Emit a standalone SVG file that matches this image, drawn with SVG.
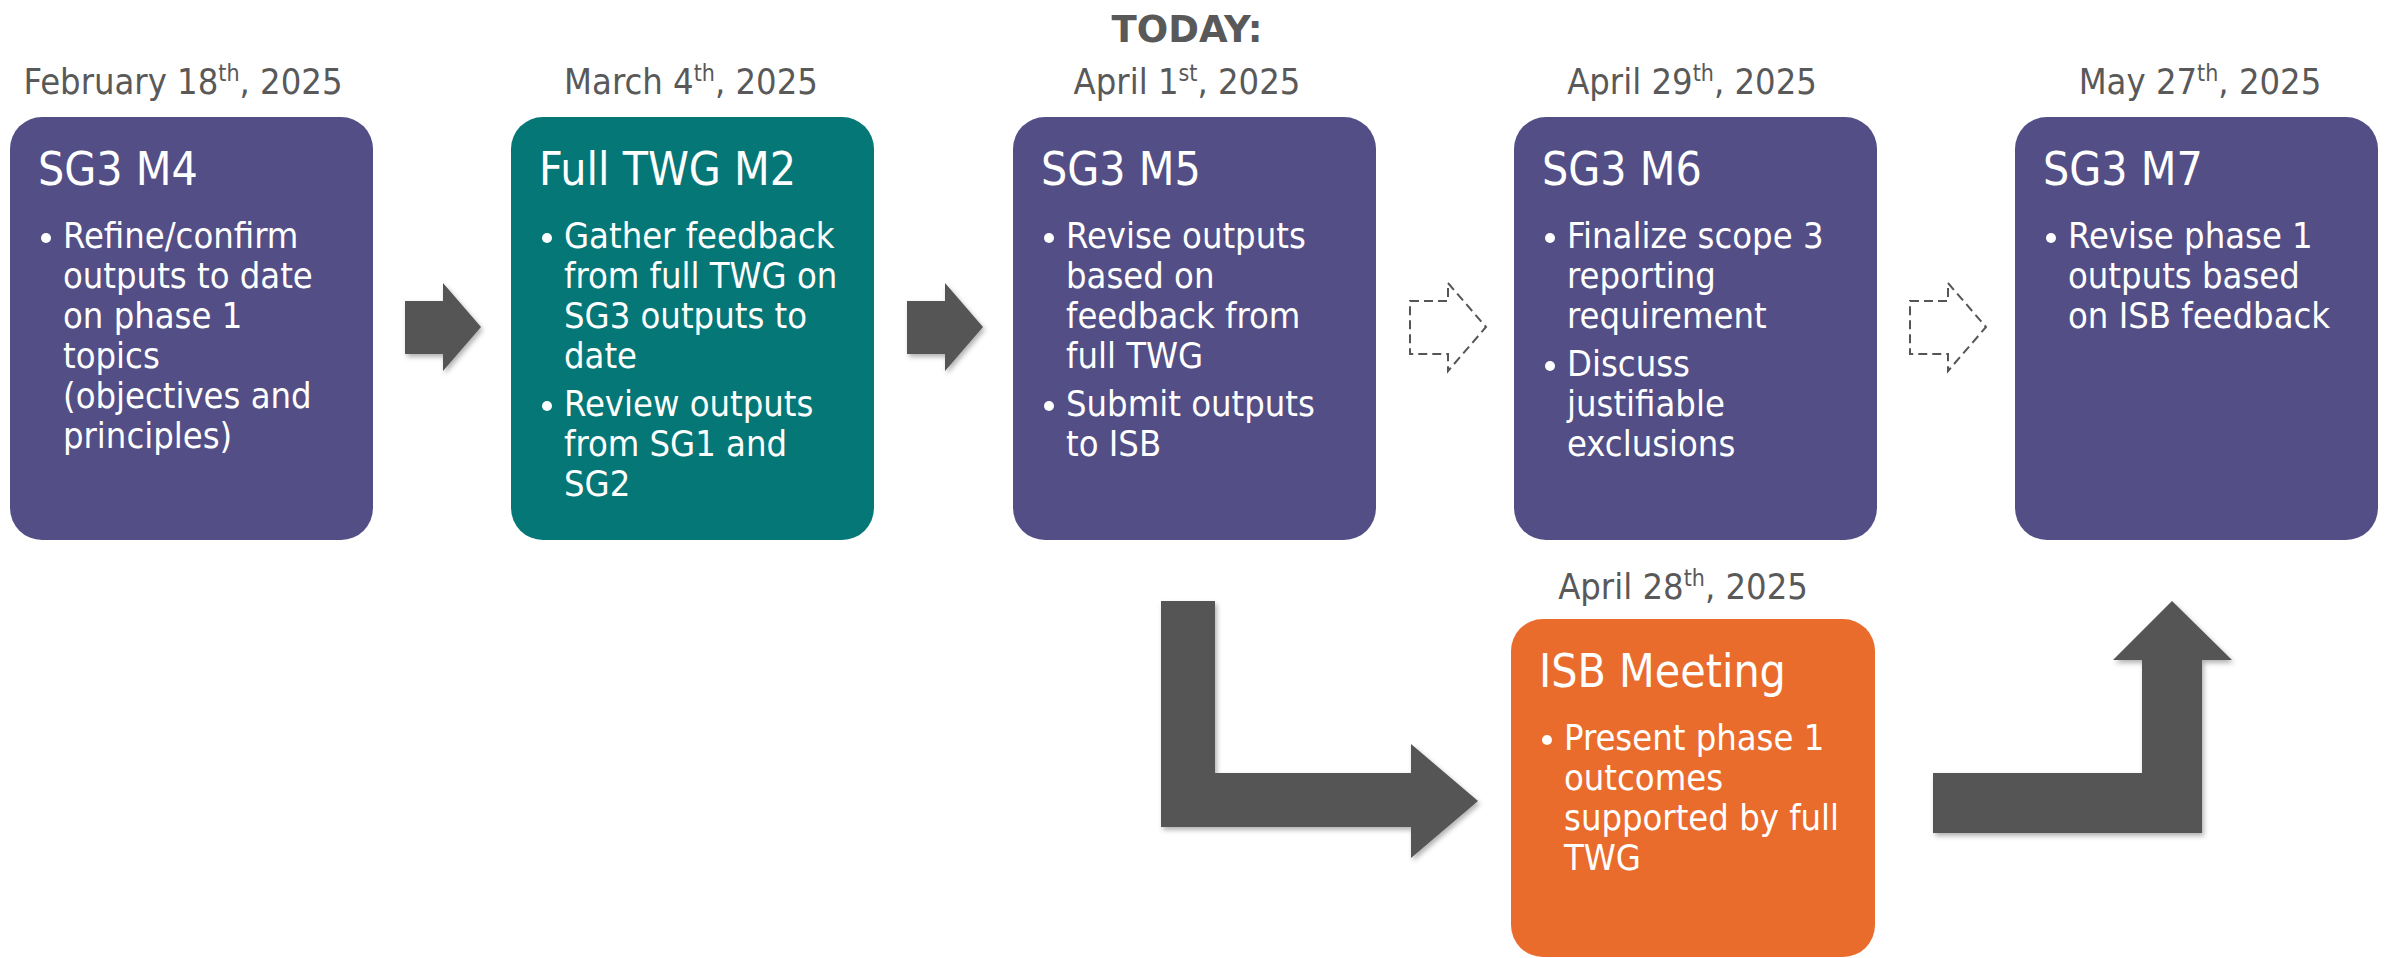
<svg xmlns="http://www.w3.org/2000/svg" width="2389" height="958" viewBox="0 0 2389 958">
<defs>
<style>
text{font-family:"DejaVu Sans Condensed","DejaVu Sans",sans-serif;font-stretch:condensed}
.date{font-size:36px;fill:#595959;text-anchor:middle}
.today{font-family:"DejaVu Sans",sans-serif;font-stretch:normal;font-weight:bold;font-size:37px;fill:#595959;text-anchor:middle}
.sup{font-size:23px}
.title{font-size:46px;fill:#ffffff}
.body{font-size:36px;fill:#ffffff}
.purple{fill:#534f86}
.teal{fill:#067777}
.orange{fill:#ea6c2c}
.dot{fill:#ffffff}
.solid{fill:#545456;filter:url(#sh)}
.dash{fill:none;stroke:#555557;stroke-width:2;stroke-dasharray:9 5}
</style>
<filter id="sh" x="-10%" y="-10%" width="130%" height="130%">
<feDropShadow dx="2" dy="3" stdDeviation="2.5" flood-color="#000" flood-opacity="0.3"/>
</filter>
</defs>
<rect width="2389" height="958" fill="#ffffff"/>

<g id="connectors">
<path class="solid" d="M405,301 H443 V283 L481,327 L443,371 V354 H405 Z"/>
<path class="solid" d="M907,301 H945 V283 L983,327 L945,371 V354 H907 Z"/>
<path class="dash" d="M1410,301 H1448 V283 L1486,327 L1448,371 V354 H1410 Z"/>
<path class="dash" d="M1910,301 H1948 V283 L1986,327 L1948,371 V354 H1910 Z"/>
<path class="solid" d="M1161,601 H1215 V773 H1411 V744 L1478,801 L1411,858 V827 H1161 Z"/>
<path class="solid" d="M1933,773 H2142 V660 H2113 L2172,601 L2232,660 H2202 V833 H1933 Z"/>
</g>

<text class="today" x="1187" y="42">TODAY:</text>

<g id="node-sg3-m4">
<text class="date" x="183" y="94">February 18<tspan class="sup" dy="-13">th</tspan><tspan dy="13">, 2025</tspan></text>
<rect class="purple" x="10" y="117" width="363" height="423" rx="32"/>
<text class="title" x="38" y="185">SG3 M4</text>
<circle class="dot" cx="46" cy="238" r="5"/>
<text class="body" x="63" y="248">Refine/confirm</text>
<text class="body" x="63" y="288">outputs to date</text>
<text class="body" x="63" y="328">on phase 1</text>
<text class="body" x="63" y="368">topics</text>
<text class="body" x="63" y="408">(objectives and</text>
<text class="body" x="63" y="448">principles)</text>
</g>

<g id="node-full-twg-m2">
<text class="date" x="691" y="94">March 4<tspan class="sup" dy="-13">th</tspan><tspan dy="13">, 2025</tspan></text>
<rect class="teal" x="511" y="117" width="363" height="423" rx="32"/>
<text class="title" x="539" y="185">Full TWG M2</text>
<circle class="dot" cx="547" cy="238" r="5"/>
<text class="body" x="564" y="248">Gather feedback</text>
<text class="body" x="564" y="288">from full TWG on</text>
<text class="body" x="564" y="328">SG3 outputs to</text>
<text class="body" x="564" y="368">date</text>
<circle class="dot" cx="547" cy="406" r="5"/>
<text class="body" x="564" y="416">Review outputs</text>
<text class="body" x="564" y="456">from SG1 and</text>
<text class="body" x="564" y="496">SG2</text>
</g>

<g id="node-sg3-m5">
<text class="date" x="1187" y="94">April 1<tspan class="sup" dy="-13">st</tspan><tspan dy="13">, 2025</tspan></text>
<rect class="purple" x="1013" y="117" width="363" height="423" rx="32"/>
<text class="title" x="1041" y="185">SG3 M5</text>
<circle class="dot" cx="1049" cy="238" r="5"/>
<text class="body" x="1066" y="248">Revise outputs</text>
<text class="body" x="1066" y="288">based on</text>
<text class="body" x="1066" y="328">feedback from</text>
<text class="body" x="1066" y="368">full TWG</text>
<circle class="dot" cx="1049" cy="406" r="5"/>
<text class="body" x="1066" y="416">Submit outputs</text>
<text class="body" x="1066" y="456">to ISB</text>
</g>

<g id="node-sg3-m6">
<text class="date" x="1692" y="94">April 29<tspan class="sup" dy="-13">th</tspan><tspan dy="13">, 2025</tspan></text>
<rect class="purple" x="1514" y="117" width="363" height="423" rx="32"/>
<text class="title" x="1542" y="185">SG3 M6</text>
<circle class="dot" cx="1550" cy="238" r="5"/>
<text class="body" x="1567" y="248">Finalize scope 3</text>
<text class="body" x="1567" y="288">reporting</text>
<text class="body" x="1567" y="328">requirement</text>
<circle class="dot" cx="1550" cy="366" r="5"/>
<text class="body" x="1567" y="376">Discuss</text>
<text class="body" x="1567" y="416">justifiable</text>
<text class="body" x="1567" y="456">exclusions</text>
</g>

<g id="node-sg3-m7">
<text class="date" x="2200" y="94">May 27<tspan class="sup" dy="-13">th</tspan><tspan dy="13">, 2025</tspan></text>
<rect class="purple" x="2015" y="117" width="363" height="423" rx="32"/>
<text class="title" x="2043" y="185">SG3 M7</text>
<circle class="dot" cx="2051" cy="238" r="5"/>
<text class="body" x="2068" y="248">Revise phase 1</text>
<text class="body" x="2068" y="288">outputs based</text>
<text class="body" x="2068" y="328">on ISB feedback</text>
</g>

<g id="node-isb-meeting">
<text class="date" x="1683" y="599">April 28<tspan class="sup" dy="-13">th</tspan><tspan dy="13">, 2025</tspan></text>
<rect class="orange" x="1511" y="619" width="364" height="338" rx="32"/>
<text class="title" x="1539" y="687">ISB Meeting</text>
<circle class="dot" cx="1547" cy="740" r="5"/>
<text class="body" x="1564" y="750">Present phase 1</text>
<text class="body" x="1564" y="790">outcomes</text>
<text class="body" x="1564" y="830">supported by full</text>
<text class="body" x="1564" y="870">TWG</text>
</g>
</svg>
